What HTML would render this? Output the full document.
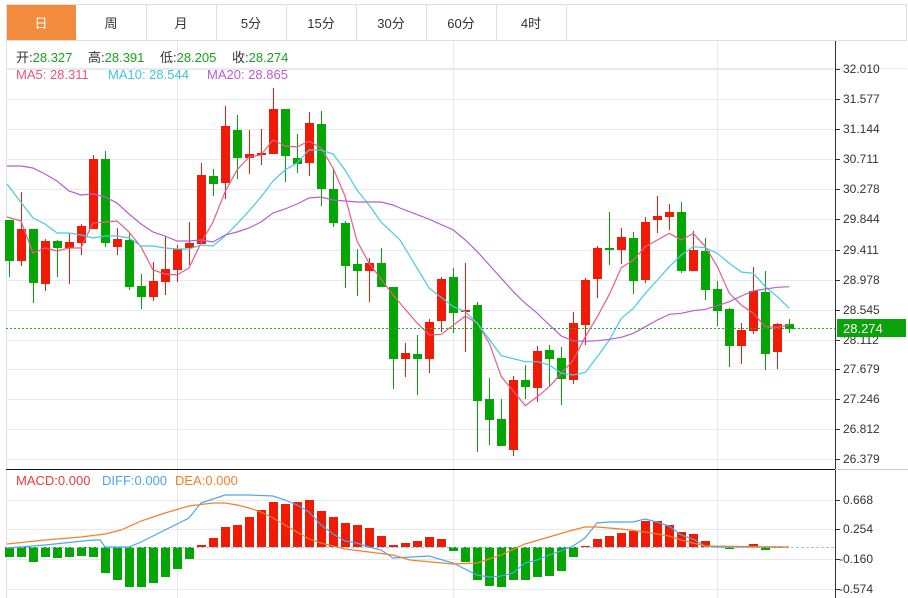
<!DOCTYPE html>
<html><head><meta charset="utf-8">
<style>
html,body{margin:0;padding:0;background:#fff;}
body{width:908px;height:598px;overflow:hidden;position:relative;font-family:"Liberation Sans","Noto Sans CJK SC",sans-serif;}
svg{position:absolute;left:0;top:0;}
</style></head><body>
<svg id="s" width="908" height="598" viewBox="0 0 908 598" font-family="Liberation Sans, Noto Sans CJK SC, sans-serif">
<rect x="6.5" y="4.5" width="900" height="36" fill="#fff" stroke="#dde1e6"/>
<rect x="7" y="5" width="69" height="35" fill="#f38b3e"/>
<g stroke="#dde1e6"><line x1="146.5" y1="5" x2="146.5" y2="40"/><line x1="216.5" y1="5" x2="216.5" y2="40"/><line x1="286.5" y1="5" x2="286.5" y2="40"/><line x1="356.5" y1="5" x2="356.5" y2="40"/><line x1="426.5" y1="5" x2="426.5" y2="40"/><line x1="496.5" y1="5" x2="496.5" y2="40"/><line x1="566.5" y1="5" x2="566.5" y2="40"/></g>
<g font-size="13" text-anchor="middle" fill="#333">
<text x="41" y="28" fill="#fff">日</text><text x="111" y="28">周</text><text x="181" y="28">月</text><text x="251" y="28">5分</text><text x="321" y="28">15分</text><text x="391" y="28">30分</text><text x="461" y="28">60分</text><text x="531" y="28">4时</text>
</g>
<line x1="6.5" y1="40" x2="6.5" y2="598" stroke="#dde1e6"/>
<line x1="6" y1="68.5" x2="906" y2="68.5" stroke="#e6eaef"/>
<g id="grid" stroke="#e6eaef"></g>
<line x1="835.5" y1="41" x2="835.5" y2="598" stroke="#333"/>
<line x1="6" y1="469.5" x2="835" y2="469.5" stroke="#111"/>
<line x1="835" y1="469.5" x2="908" y2="469.5" stroke="#ccc"/>
<g id="plot"></g>
<g font-size="13">
<text x="16" y="62" fill="#333">开:<tspan fill="#1aa11a">28.327</tspan></text>
<text x="88" y="62" fill="#333">高:<tspan fill="#1aa11a">28.391</tspan></text>
<text x="160" y="62" fill="#333">低:<tspan fill="#1aa11a">28.205</tspan></text>
<text x="232" y="62" fill="#333">收:<tspan fill="#1aa11a">28.274</tspan></text>
<text x="16" y="79" fill="#e8577f">MA5: 28.311</text>
<text x="108" y="79" fill="#3ec6e0">MA10: 28.544</text>
<text x="207" y="79" fill="#b65ed0">MA20: 28.865</text>
<text x="16" y="485" fill="#f03a3a">MACD:0.000</text>
<text x="102" y="485" fill="#4ea6ee">DIFF:0.000</text>
<text x="175" y="485" fill="#f5802a">DEA:0.000</text>
</g>
<g font-size="12" fill="#333">
<text x="843" y="73">32.010</text><text x="843" y="103">31.577</text><text x="843" y="133">31.144</text><text x="843" y="163">30.711</text><text x="843" y="193">30.278</text><text x="843" y="223">29.844</text><text x="843" y="254">29.411</text><text x="843" y="284">28.978</text><text x="843" y="314">28.545</text><text x="843" y="344">28.112</text><text x="843" y="373">27.679</text><text x="843" y="403">27.246</text><text x="843" y="433">26.812</text><text x="843" y="463">26.379</text>
<text x="843" y="504">0.668</text><text x="843" y="533">0.254</text><text x="839" y="563">-0.160</text><text x="839" y="593">-0.574</text>
</g>
<g stroke="#333" id="ticks"></g>
<rect x="837" y="319" width="69" height="18" fill="#0aa30a"/>
<text x="843" y="333" font-size="13" fill="#fff">28.274</text>
</svg>
<script>
var NS="http://www.w3.org/2000/svg",P=document.getElementById('plot'),G=document.getElementById('grid'),T=document.getElementById('ticks');
function el(p,t,a){var e=document.createElementNS(NS,t);for(var k in a)e.setAttribute(k,a[k]);p.appendChild(e);return e;}
[69,99,129,159,189,219,250,280,310,340,369,399,429,459,500,529,559,589].forEach(function(y){el(G,'line',{x1:6,y1:y+.5,x2:835,y2:y+.5});el(T,'line',{x1:835,y1:y+.5,x2:840,y2:y+.5});});
[177,453,717].forEach(function(x){el(G,'line',{x1:x+.5,y1:41,x2:x+.5,y2:598});});
var R='#f01a05',Gr='#03a603';
var C=[['g',220,261,220,277],['r',229,261,192,266],['g',229,283,229,303],['r',241,284,239,291],['g',241,248,240,277],['r',242,248,233,284],['r',226,243,224,255],['r',159,229,155,229],['g',159,243,151,247],['r',239,247,228,255],['g',240,287,233,290],['g',286,297,274,309],['r',281,297,262,301],['r',269,282,236,295],['r',249,270,245,282],['r',243,248,222,265],['r',175,244,163,244],['g',176,184,169,196],['r',126,183,106,199],['g',130,158,115,179],['r',154,158,130,174],['r',153,155,129,165],['r',109,154,88,154],['g',109,156,109,182],['g',158,164,134,173],['r',123,163,112,176],['g',124,189,111,206],['g',189,223,168,227],['g',223,266,221,288],['g',264,271,249,296],['r',263,271,258,302],['g',263,287,248,287],['g',287,359,287,389],['r',353,359,343,377],['g',354,359,335,395],['r',322,359,319,373],['r',279,321,277,332],['g',277,313,268,333],['r',310,312,263,352],['g',305,401,302,452],['g',399,420,378,445],['g',419,446,399,446],['r',380,450,376,456],['g',380,387,365,399],['r',351,388,346,402],['g',350,359,345,386],['g',358,379,347,405],['r',323,380,312,384],['r',280,325,278,345],['r',248,279,246,298],['g',248,250,212,265],['r',237,250,228,264],['g',238,281,232,294],['r',222,280,217,283],['r',216,220,196,233],['r',212,217,204,230],['g',212,271,202,273],['r',250,271,231,271],['g',251,290,238,300],['g',289,311,281,326],['g',309,346,308,367],['r',330,346,323,364],['r',291,331,267,334],['g',292,354,271,370],['r',324,352,323,369],['g',324,329,319,333]];
function cx(k){return 9.5+12*k;}
var M=[557,557,562,557,558,557,556,557,573,580,587,587,583,577,569,559,545,538,527,525,517,510,502,504,502,500,511,517,523,525,528,536,545,543,541,537,539,551,562,580,586,587,580,580,577,576,571,557,546,539,536,533,531,521,521,525,532,534,541,546,549,546,544,550,548,547];
var Z=547;
M.forEach(function(y,k){var x=cx(k);if(Math.abs(y-Z)<1)return;var up=y<Z;el(P,'rect',{x:x-4.5,y:Math.min(y,Z),width:9,height:Math.abs(y-Z),fill:up?R:Gr});});
el(P,'line',{x1:6,y1:Z+.5,x2:835,y2:Z+.5,stroke:'#9cc9e8','stroke-dasharray':'3,2'});
function line(pts,col){el(P,'polyline',{points:pts.map(function(p){return p.join(',')}).join(' '),fill:'none',stroke:col,'stroke-width':1.2});}
line([[7,548],[33,546],[45,545],[93,540],[100,540],[105,547],[129,547],[141,542],[165,530],[189,518],[201,503],[225,495],[249,495],[273,496],[285,500],[297,505],[309,512],[321,525],[333,534],[345,541],[357,543],[369,547],[381,550],[393,558],[429,556],[453,563],[477,575],[489,577],[501,576],[513,573],[525,563],[537,560],[549,555],[561,551],[573,546],[585,538],[597,523],[609,522],[633,522],[645,519],[657,522],[669,526],[681,535],[693,539],[705,546],[717,547],[789,547]],'#4ea6ee');
line([[7,544],[45,540],[81,537],[105,534],[121,530],[141,521],[165,513],[189,506],[213,503],[225,503],[237,505],[249,508],[261,512],[273,518],[285,525],[297,532],[309,539],[321,543],[345,549],[369,552],[393,555],[410,560],[453,564],[477,563],[489,559],[501,555],[525,544],[549,537],[573,530],[585,527],[597,527],[621,529],[645,532],[669,536],[681,540],[693,543],[705,546],[789,547]],'#f5802a');
C.forEach(function(c,k){var x=cx(k),col=c[0]=='r'?R:Gr;el(P,'line',{x1:x,y1:c[3],x2:x,y2:c[4],stroke:col,'stroke-width':1});el(P,'rect',{x:x-4.5,y:c[1],width:9,height:Math.max(1.5,c[2]-c[1]),fill:col});});
function z3(a){return a.map(function(p){return [400+p[0]/3,180+p[1]/3];});}
line([[7,217],[21,221],[33,253],[45,248],[57,251],[69,248],[81,248],[93,223],[105,222],[117,221],[129,232],[141,247],[153,270],[165,274],[177,275],[189,268],[201,243],[213,222],[225,192],[237,170],[249,157],[261,155],[273,140],[285,146],[297,147],[309,141],[321,148],[333,168],[345,196],[357,241],[369,263],[393,295]].concat(z3([[52,430],[88,465],[124,463],[196,408],[232,430],[268,490],[304,590],[376,677],[412,650],[448,620],[484,580],[520,540],[556,470],[592,410],[628,343],[664,263],[700,240],[736,200],[772,180],[808,160],[844,180],[880,160],[916,200],[952,260],[988,340],[1024,375],[1060,400],[1096,440],[1132,442],[1168,435]])),'#ec5b85');
line([[7,184],[33,218],[45,224],[57,233],[69,233],[81,235],[93,238],[105,236],[117,236],[129,238],[141,246],[153,246],[165,248],[177,249],[189,249],[201,245],[213,246],[225,236],[237,224],[249,211],[261,197],[273,181],[285,170],[297,163],[309,150],[321,150],[333,154],[345,170],[357,190],[369,205],[381,222],[400,240]].concat(z3([[88,325],[160,380],[196,395],[232,430],[304,527],[376,545],[412,545],[448,555],[484,580],[520,585],[556,577],[592,530],[628,480],[664,415],[700,385],[736,340],[772,300],[808,260],[844,225],[880,200],[916,203],[952,220],[988,250],[1024,276],[1060,280],[1096,320],[1132,350],[1168,385]])),'#45cbe3');
line([[7,166],[21,166],[33,168],[45,174],[57,181],[69,191],[81,195],[93,194],[105,197],[117,203],[129,214],[141,224],[153,232],[165,236],[177,241],[189,241],[201,240],[213,242],[225,235],[237,232],[249,228],[261,222],[273,213],[285,209],[297,204],[309,198],[321,197],[333,200],[345,201],[357,202],[369,202],[381,202],[393,205],[400,208]].concat(z3([[88,118],[160,150],[196,180],[232,215],[268,255],[304,295],[340,335],[376,370],[412,400],[448,435],[484,468],[520,483],[556,484],[592,482],[628,478],[664,472],[700,460],[736,440],[772,420],[808,403],[844,400],[880,392],[916,388],[952,377],[988,365],[1024,348],[1060,333],[1096,327],[1132,322],[1168,320]])),'#b65ed0');
el(P,'line',{x1:6,y1:328.5,x2:835,y2:328.5,stroke:'#22b022','stroke-dasharray':'2,2'});
</script>
</body></html>
